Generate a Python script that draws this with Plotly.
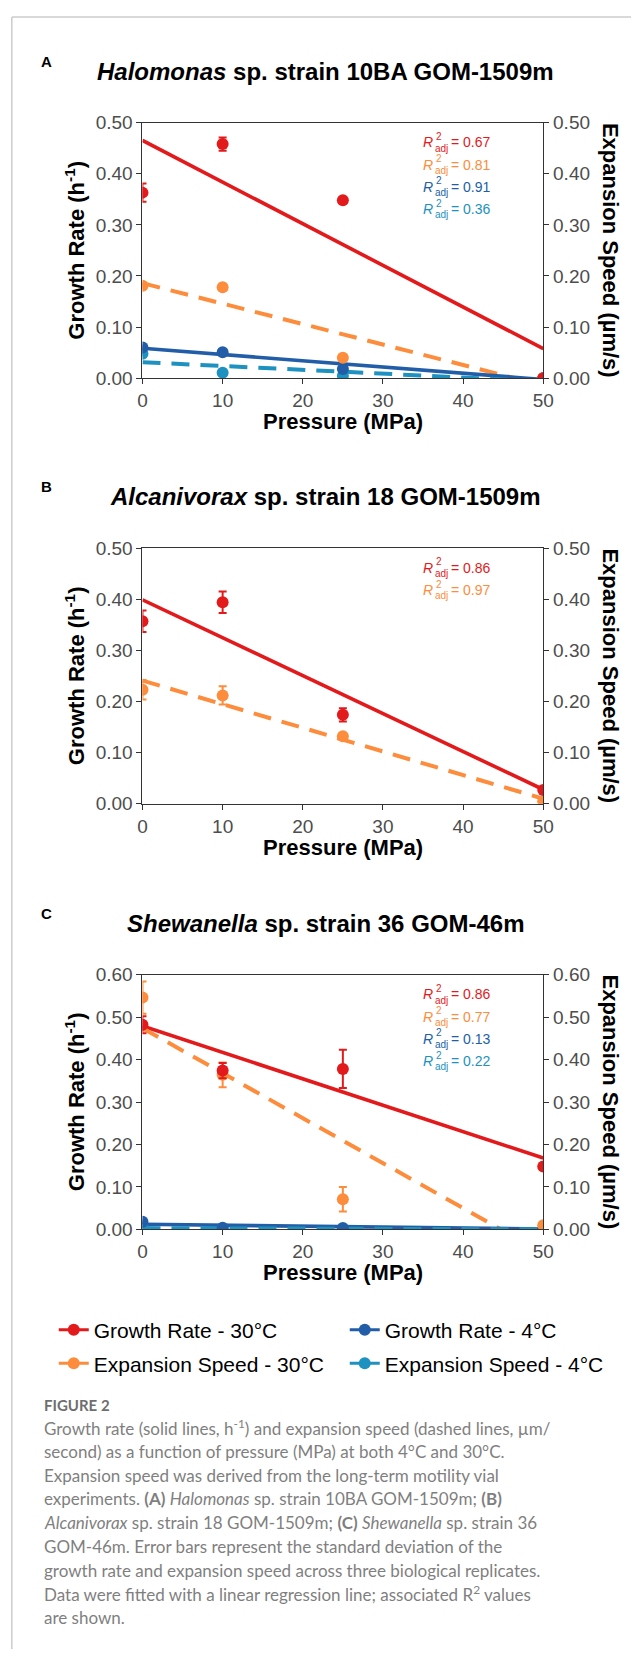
import plotly.graph_objects as go

W, H = 642, 1660

# ---------------- data ----------------
pressure = [0, 10, 25, 50]
fit_x = [0, 50]

# Panel A: Halomonas sp. strain 10BA GOM-1509m
a_gr30 = [0.363, 0.458, 0.348, 0.0]
a_gr30_err = [0.018, 0.013, 0.004, 0.0]
a_es30 = [0.181, 0.178, 0.040, 0.0]
a_es30_err = [0.005, 0.004, 0.004, 0.0]
a_gr4 = [0.060, 0.051, 0.018, 0.0]
a_gr4_err = [0.004, 0.003, 0.004, 0.0]
a_es4 = [0.048, 0.011, 0.005, 0.0]
a_es4_err = [0.003, 0.003, 0.002, 0.0]
a_gr30_fit = [0.465, 0.058]
a_es30_fit = [0.186, -0.014]
a_gr4_fit = [0.0586, -0.0024]
a_es4_fit = [0.0315, -0.006]
a_r2 = ["0.67", "0.81", "0.91", "0.36"]

# Panel B: Alcanivorax sp. strain 18 GOM-1509m
b_gr30 = [0.357, 0.394, 0.174, 0.027]
b_gr30_err = [0.021, 0.021, 0.013, 0.004]
b_es30 = [0.223, 0.212, 0.132, 0.005]
b_es30_err = [0.019, 0.018, 0.004, 0.003]
b_gr30_fit = [0.399, 0.028]
b_es30_fit = [0.241, 0.010]
b_r2 = ["0.86", "0.97"]

# Panel C: Shewanella sp. strain 36 GOM-46m
c_gr30 = [0.482, 0.374, 0.378, 0.148]
c_gr30_err = [0.020, 0.018, 0.045, 0.005]
c_es30 = [0.546, 0.364, 0.071, 0.010]
c_es30_err = [0.038, 0.029, 0.029, 0.003]
c_gr4 = [0.018, 0.004, 0.003, 0.001]
c_gr4_err = [0.003, 0.001, 0.001, 0.001]
c_es4 = [0.004, 0.002, 0.001, 0.0]
c_es4_err = [0.001, 0.001, 0.001, 0.0]
c_gr30_fit = [0.479, 0.168]
c_es30_fit = [0.474, -0.056]
c_gr4_fit = [0.012, 0.001]
c_es4_fit = [0.003, 0.0]
c_r2 = ["0.86", "0.77", "0.13", "0.22"]

titles = ["<i>Halomonas</i> sp. strain 10BA GOM-1509m",
          "<i>Alcanivorax</i> sp. strain 18 GOM-1509m",
          "<i>Shewanella</i> sp. strain 36 GOM-46m"]
panel_letters = ["A", "B", "C"]
y_max = [0.5, 0.5, 0.6]
x_ticks = [0, 10, 20, 30, 40, 50]

series_names = ["Growth Rate - 30°C", "Growth Rate - 4°C",
                "Expansion Speed - 30°C", "Expansion Speed - 4°C"]

caption_title = "FIGURE 2"
caption_lines = [
    "Growth rate (solid lines, h<sup>-1</sup>) and expansion speed (dashed lines, µm/",
    "second) as a function of pressure (MPa) at both 4°C and 30°C.",
    "Expansion speed was derived from the long-term motility vial",
    "experiments. <b>(A)</b> <i>Halomonas</i> sp. strain 10BA GOM-1509m; <b>(B)</b>",
    "<i>Alcanivorax</i> sp. strain 18 GOM-1509m; <b>(C)</b> <i>Shewanella</i> sp. strain 36",
    "GOM-46m. Error bars represent the standard deviation of the",
    "growth rate and expansion speed across three biological replicates.",
    "Data were fitted with a linear regression line; associated R<sup>2</sup> values",
    "are shown.",
]

# ---------------- styles ----------------
RED = "#E31A1C"
ORANGE = "#FD8D3C"
BLUE = "#225EA8"
CYAN = "#1D91C0"
FONT = "Liberation Sans, Arial, sans-serif"
AX = "#333333"
TICKC = "#4d4d4d"
TICK_SIZE = 19

# panel geometry in pixels
PX_L, PX_R = 141, 552
panel_tops = [114, 545, 977]
panel_bots = [373, 804, 1235]


def px(x, y):
    return x / W, 1 - y / H


panels = [
    dict(series=[(a_gr30, a_gr30_err, a_gr30_fit, RED, "solid", a_r2[0]),
                 (a_es30, a_es30_err, a_es30_fit, ORANGE, "dash", a_r2[1]),
                 (a_gr4, a_gr4_err, a_gr4_fit, BLUE, "solid", a_r2[2]),
                 (a_es4, a_es4_err, a_es4_fit, CYAN, "dash", a_r2[3])]),
    dict(series=[(b_gr30, b_gr30_err, b_gr30_fit, RED, "solid", b_r2[0]),
                 (b_es30, b_es30_err, b_es30_fit, ORANGE, "dash", b_r2[1])]),
    dict(series=[(c_gr30, c_gr30_err, c_gr30_fit, RED, "solid", c_r2[0]),
                 (c_es30, c_es30_err, c_es30_fit, ORANGE, "dash", c_r2[1]),
                 (c_gr4, c_gr4_err, c_gr4_fit, BLUE, "solid", c_r2[2]),
                 (c_es4, c_es4_err, c_es4_fit, CYAN, "dash", c_r2[3])]),
]

fig = go.Figure()
layout = {}
annotations = []
right_axes = []

for i, p in enumerate(panels):
    xid = "x" if i == 0 else f"x{i+1}"
    yl = 2 * i + 1
    yr = 2 * i + 2
    ylid = "y" if yl == 1 else f"y{yl}"
    yrid = f"y{yr}"
    right_axes.append((xid, yrid))
    xkey = "xaxis" if i == 0 else f"xaxis{i+1}"
    ylkey = "yaxis" if yl == 1 else f"yaxis{yl}"
    yrkey = f"yaxis{yr}"
    top, bot = panel_tops[i], panel_bots[i]
    dom_y = [1 - bot / H, 1 - top / H]
    dom_x = [PX_L / W, PX_R / W]
    ym = y_max[i]
    yticks = [round(k * 0.1, 2) for k in range(int(round(ym * 10)) + 1)]

    layout[xkey] = dict(domain=dom_x, range=[0, 50], anchor=ylid,
                        tickvals=x_ticks, ticks="outside", ticklen=5,
                        tickcolor=AX, tickwidth=1, showline=True, linecolor=AX,
                        linewidth=1, mirror=True, showgrid=False, zeroline=False,
                        tickfont=dict(size=TICK_SIZE, color=TICKC, family=FONT))
    common_y = dict(range=[0, ym], tickvals=yticks, tickformat=".2f",
                    ticks="outside", ticklen=5, tickcolor=AX, tickwidth=1,
                    showline=True, linecolor=AX, linewidth=1, showgrid=False,
                    zeroline=False, tickfont=dict(size=TICK_SIZE, color=TICKC, family=FONT))
    layout[ylkey] = dict(domain=dom_y, anchor=xid, side="left", **common_y)
    layout[yrkey] = dict(overlaying=ylid, anchor=xid, side="right", **common_y)

    # fit lines
    for (vals, err, fit, col, dash, r2) in p["series"]:
        fig.add_trace(go.Scatter(
            x=fit_x, y=fit, mode="lines", xaxis=xid, yaxis=ylid,
            line=dict(color=col, width=3.6 if dash == "solid" else 4,
                      dash="solid" if dash == "solid" else "18px,11px"),
            showlegend=False, hoverinfo="skip"))
    # points (draw 4°C first so 30°C is on top)
    for (vals, err, fit, col, dash, r2) in reversed(p["series"]):
        fig.add_trace(go.Scatter(
            x=pressure, y=vals, mode="markers", xaxis=xid, yaxis=ylid,
            marker=dict(color=col, size=12),
            error_y=dict(type="data", array=err, visible=True, color=col,
                         thickness=2, width=4),
            showlegend=False))

    # R2 labels
    for k, (vals, err, fit, col, dash, r2) in enumerate(p["series"]):
        ry = top + 20 + k * 22.5
        rx = 428
        f14 = dict(size=14, color=col, family=FONT)
        f10 = dict(size=10, color=col, family=FONT)
        for txt, dx, dy, f in [("<i>R</i>", 0, 0, f14), ("2", 12.5, -6, f10),
                               ("adj", 11.5, 6, f10), ("= " + r2, 28, 0, f14)]:
            x0, y0 = px(rx + dx, ry + dy)
            annotations.append(dict(text=txt, x=x0, y=y0, xref="paper", yref="paper",
                                    xanchor="left", yanchor="middle", showarrow=False,
                                    font=f, borderpad=0))

    # titles
    x0, y0 = px(329, top - 52)
    annotations.append(dict(text="<b>" + titles[i] + "</b>", x=x0, y=y0, xref="paper",
                            yref="paper", showarrow=False, xanchor="center",
                            yanchor="middle", font=dict(size=24, color="black", family=FONT)))
    x0, y0 = px(43, top - 62)
    annotations.append(dict(text="<b>" + panel_letters[i] + "</b>", x=x0, y=y0,
                            xref="paper", yref="paper", showarrow=False,
                            xanchor="center", yanchor="middle",
                            font=dict(size=15, color="black", family=FONT)))
    # axis titles
    x0, y0 = px((PX_L + PX_R) / 2, bot + 44)
    annotations.append(dict(text="<b>Pressure (MPa)</b>", x=x0, y=y0, xref="paper",
                            yref="paper", showarrow=False, xanchor="center",
                            yanchor="middle", font=dict(size=22, color="black", family=FONT)))
    x0, y0 = px(72, (top + bot) / 2)
    annotations.append(dict(text="<b>Growth Rate (h<sup>-1</sup>)</b>", x=x0, y=y0,
                            xref="paper", yref="paper", showarrow=False, textangle=-90,
                            xanchor="center", yanchor="middle",
                            font=dict(size=22, color="black", family=FONT)))
    x0, y0 = px(621, (top + bot) / 2)
    annotations.append(dict(text="<b>Expansion Speed (µm/s)</b>", x=x0, y=y0,
                            xref="paper", yref="paper", showarrow=False, textangle=90,
                            xanchor="center", yanchor="middle",
                            font=dict(size=22, color="black", family=FONT)))

# legend-only traces (also attach the right-hand axes so they are drawn)
leg_styles = [(RED, "legend"), (BLUE, "legend"), (ORANGE, "legend2"), (CYAN, "legend2")]
leg_axes = [right_axes[0], right_axes[1], right_axes[2], right_axes[0]]
for name, (col, lg), (xa, ya) in zip(series_names, leg_styles, leg_axes):
    fig.add_trace(go.Scatter(x=[None], y=[None], mode="lines+markers", name=name,
                             xaxis=xa, yaxis=ya,
                             line=dict(color=col, width=3), marker=dict(color=col, size=12),
                             legend=lg, showlegend=True, hoverinfo="skip"))

leg_common = dict(orientation="h", xanchor="left", yanchor="middle",
                  font=dict(size=21, color="black", family=FONT),
                  entrywidth=246, entrywidthmode="pixels", itemwidth=30,
                  bgcolor="rgba(0,0,0,0)", borderwidth=0, traceorder="normal")
lx, ly1 = px(50, 1337)
_, ly2 = px(50, 1371)
layout["legend"] = dict(x=lx, y=ly1, **leg_common)
layout["legend2"] = dict(x=lx, y=ly2, **leg_common)

# caption
x0, y0 = px(38, 1413)
annotations.append(dict(text="<b>" + caption_title + "</b>", x=x0, y=y0, xref="paper",
                        yref="paper", showarrow=False, xanchor="left", yanchor="middle",
                        font=dict(size=15, color="#6e6e6e", family="Lato")))
for k, line in enumerate(caption_lines):
    x0, y0 = px(38, 1436 + 24 * k)
    annotations.append(dict(text=line, x=x0, y=y0, xref="paper", yref="paper",
                            showarrow=False, xanchor="left", yanchor="middle",
                            font=dict(size=17, color="#7f7f7f", family="Lato")))

# frame lines (left and top)
shapes = [
    dict(type="line", xref="paper", yref="paper", x0=7 / W, x1=7 / W, y0=0, y1=1 - 7 / H,
         line=dict(color="#cccccc", width=1.5)),
    dict(type="line", xref="paper", yref="paper", x0=7 / W, x1=1, y0=1 - 7 / H, y1=1 - 7 / H,
         line=dict(color="#cccccc", width=1.5)),
]

fig.update_layout(width=W, height=H, autosize=False,
                  margin=dict(l=0, r=0, t=0, b=0),
                  paper_bgcolor="white", plot_bgcolor="white",
                  annotations=annotations, shapes=shapes,
                  font=dict(family=FONT), **layout)

fig.write_html("out.html", config={"displayModeBar": False},
               post_script="document.body.style.margin='0';")
